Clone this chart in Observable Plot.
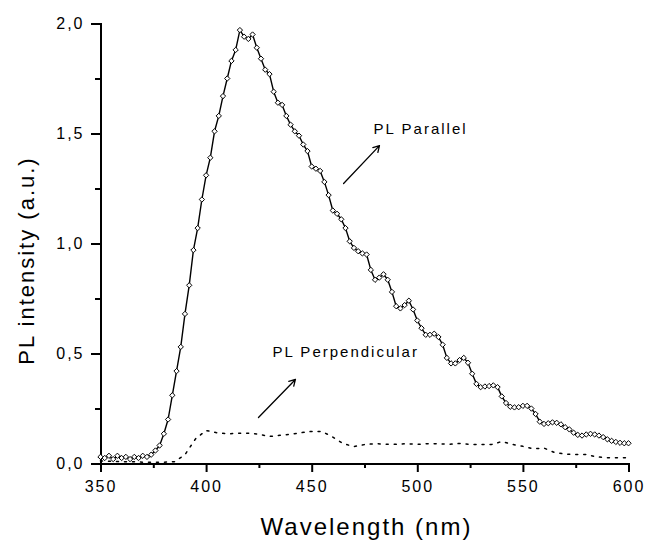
<!DOCTYPE html>
<html><head><meta charset="utf-8">
<script src="https://cdn.jsdelivr.net/npm/d3@7"></script>
<script src="https://cdn.jsdelivr.net/npm/@observablehq/plot@0.6"></script>
<style>
body{margin:0;background:#fff}
svg text{letter-spacing:2px}
</style>
</head><body><div id="chart"></div>
<script>
// PL Parallel (nm, a.u.)
const parWl = [350,352,354,356,358,360,362,364,366,368,370,372,374,376,378,380,382,384,386,388,390,392,394,396,398,400,402,404,406,408,410,412,414,416,418,420,422,424,426,428,430,432,434,436,438,440,442,444,446,448,450,452,454,456,458,460,462,464,466,468,470,472,474,476,478,480,482,484,486,488,490,492,494,496,498,500,502,504,506,508,510,512,514,516,518,520,522,524,526,528,530,532,534,536,538,540,542,544,546,548,550,552,554,556,558,560,562,564,566,568,570,572,574,576,578,580,582,584,586,588,590,592,594,596,598,600];
const parVal = [0.03,0.025,0.035,0.02,0.035,0.025,0.03,0.02,0.03,0.025,0.035,0.03,0.04,
 0.059,0.082,0.135,0.2,0.31,0.42,0.53,0.68,0.81,0.97,1.07,1.2,1.31,1.39,1.51,1.58,1.67,1.75,1.83,1.88,1.97,1.94,1.93,1.95,1.89,1.84,1.79,1.77,1.69,1.64,
 1.63,1.58,1.54,1.51,1.49,1.45,1.42,1.35,1.34,1.33,1.28,1.22,1.15,1.135,1.11,1.07,1.01,0.98,0.965,0.955,0.95,0.88,0.835,0.845,0.86,0.835,0.78,0.715,0.705,0.72,0.74,0.70,0.65,0.615,0.585,0.585,0.59,0.575,0.54,0.48,0.455,0.455,0.47,0.48,0.458,0.408,0.362,0.347,0.35,0.352,0.355,0.347,0.305,0.275,0.258,0.255,0.256,0.262,0.262,0.25,0.225,0.19,0.18,0.183,0.187,0.185,0.178,0.165,0.155,0.14,0.13,0.127,0.132,0.135,0.132,0.127,0.12,0.11,0.103,0.098,0.094,0.092,0.092];

// PL Perpendicular
const perpWl = [350,355,360,365,370,375,380,385,390,395,400,405,410,415,420,425,430,435,440,445,450,455,460,465,470,475,480,485,490,495,500,505,510,515,520,525,530,535,540,545,550,555,560,565,570,575,580,585,590,595,600];
const perpVal = [0.012,0.010,0.008,0.008,0.006,0.006,0.006,0.008,0.04,0.112,0.15,0.14,0.135,0.137,0.138,0.133,0.123,0.128,0.133,0.14,0.146,0.145,0.12,0.09,0.077,0.086,0.09,0.088,0.087,0.09,0.087,0.09,0.09,0.087,0.091,0.087,0.086,0.086,0.1,0.087,0.078,0.067,0.07,0.05,0.043,0.041,0.041,0.03,0.026,0.026,0.026];

// Axes ticks
const xTicks = [350,400,450,500,550,600];
const xMinor = [375,425,475,525,575];
const yTicks = [0,0.5,1,1.5,2];
const yTickLabels = ["0,0","0,5","1,0","1,5","2,0"];
const yMinor = [0.25,0.75,1.25,1.75];

// Annotations
const annLabels = ["PL Parallel","PL Perpendicular"];
const annX = [479.3,431.4];
const annY = [1.518,0.505];
const arrX1 = [465.1,424.8], arrY1 = [1.273,0.209], arrX2 = [482.1,442.3], arrY2 = [1.445,0.382];

const par = parWl.map((x,i)=>({x, y: parVal[i]}));
const perp = perpWl.map((x,i)=>({x, y: perpVal[i]}));
const ann = annLabels.map((t,i)=>({t, x: annX[i], y: annY[i]}));
const arrows = arrX1.map((d,i)=>({x1: arrX1[i], y1: arrY1[i], x2: arrX2[i], y2: arrY2[i]}));

const chart = Plot.plot({
  width: 647, height: 543,
  marginLeft: 100, marginRight: 19, marginTop: 23, marginBottom: 80,
  style: {fontFamily: "'Liberation Sans', Arial, sans-serif", background: "#fff", color: "#000"},
  x: {domain: [350, 600]},
  y: {domain: [0, 2]},
  marks: [
    Plot.axisX({ticks: xMinor, tickSize: 5, tickFormat: () => "", stroke: "black", strokeWidth: 2, dx: 0.5, label: null}),
    Plot.axisX({ticks: xTicks, tickSize: 9, tickPadding: 8, fontSize: 16, stroke: "black", fill: "black", strokeWidth: 2, dx: 0.5, label: null, tickFormat: d => String(d)}),
    Plot.axisY({ticks: yMinor, tickSize: 5, tickFormat: () => "", stroke: "black", strokeWidth: 2, dy: 0.5, label: null}),
    Plot.axisY({ticks: yTicks, tickSize: 9, tickPadding: 7, fontSize: 16, stroke: "black", fill: "black", strokeWidth: 2, dy: 0.5, label: null, tickFormat: d => yTickLabels[yTicks.indexOf(d)]}),
    Plot.ruleX([350], {y1: 0, y2: 2, stroke: "black", strokeWidth: 2, dx: 0.5}),
    Plot.ruleY([0], {stroke: "black", strokeWidth: 2, dy: 0.5}),
    Plot.line(perp, {x: "x", y: "y", stroke: "black", strokeWidth: 1.5, strokeDasharray: "2,6"}),
    Plot.line(par, {x: "x", y: "y", stroke: "black", strokeWidth: 1.4}),
    Plot.dot(par, {x: "x", y: "y", symbol: "diamond2", r: 2.4, fill: "white", stroke: "black", strokeWidth: 1}),
    Plot.arrow(arrows, {x1: "x1", y1: "y1", x2: "x2", y2: "y2", stroke: "black", strokeWidth: 1.3, headLength: 8}),
    Plot.text(ann, {x: "x", y: "y", text: "t", textAnchor: "start", lineAnchor: "middle", fontSize: 15, fill: "black"}),
    Plot.text(["Wavelength (nm)"], {frameAnchor: "bottom", textAnchor: "middle", dy: 64, dx: 2, lineAnchor: "middle", fontSize: 24, fill: "black"}),
    Plot.text(["PL intensity (a.u.)"], {frameAnchor: "left", textAnchor: "middle", rotate: -90, dx: -74, dy: 17, lineAnchor: "middle", fontSize: 22, fill: "black"})
  ]
});
document.getElementById("chart").appendChild(chart);
</script>
</body></html>
